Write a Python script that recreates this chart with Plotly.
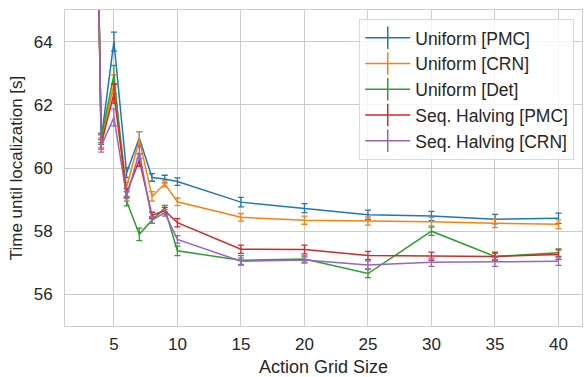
import plotly.graph_objects as go

# Action grid sizes evaluated
grid_size = [3, 4, 5, 6, 7, 8, 9, 10, 15, 20, 25, 30, 35, 40]

# Mean time until localization [s] per method
uniform_pmc = [85.0, 60.9, 64.0, 59.85, 60.95, 59.7, 59.65, 59.57, 58.92, 58.73, 58.52, 58.48, 58.38, 58.41]
uniform_crn = [85.0, 60.8, 62.65, 59.4, 60.9, 59.1, 59.5, 58.93, 58.44, 58.35, 58.32, 58.3, 58.25, 58.22]
uniform_det = [85.0, 60.95, 62.95, 58.95, 57.9, 58.35, 58.72, 57.38, 57.08, 57.12, 56.66, 58.0, 57.2, 57.32]
seqh_pmc = [85.0, 60.75, 62.35, 59.2, 60.25, 58.5, 58.65, 58.27, 57.43, 57.42, 57.23, 57.21, 57.2, 57.26]
seqh_crn = [85.0, 60.7, 61.6, 59.1, 60.5, 58.35, 58.58, 57.74, 57.05, 57.09, 56.93, 57.02, 57.03, 57.05]

# Standard errors
uniform_pmc_err = [1.0, 0.15, 0.3, 0.15, 0.2, 0.12, 0.12, 0.12, 0.15, 0.14, 0.15, 0.15, 0.15, 0.16]
uniform_crn_err = [1.0, 0.15, 0.3, 0.15, 0.25, 0.15, 0.1, 0.12, 0.12, 0.13, 0.13, 0.13, 0.14, 0.14]
uniform_det_err = [1.0, 0.15, 0.3, 0.15, 0.2, 0.1, 0.1, 0.15, 0.15, 0.1, 0.13, 0.13, 0.1, 0.12]
seqh_pmc_err = [1.0, 0.15, 0.3, 0.15, 0.2, 0.1, 0.1, 0.13, 0.13, 0.14, 0.13, 0.13, 0.14, 0.15]
seqh_crn_err = [1.0, 0.2, 0.27, 0.15, 0.2, 0.1, 0.1, 0.12, 0.1, 0.1, 0.12, 0.13, 0.14, 0.13]

series_names = ["Uniform [PMC]", "Uniform [CRN]", "Uniform [Det]",
                "Seq. Halving [PMC]", "Seq. Halving [CRN]"]
colors = ["#1f77b4", "#ff7f0e", "#2ca02c", "#d62728", "#9467bd"]

means = [uniform_pmc, uniform_crn, uniform_det, seqh_pmc, seqh_crn]
errs = [uniform_pmc_err, uniform_crn_err, uniform_det_err, seqh_pmc_err, seqh_crn_err]

FONT = "Liberation Sans, Arial, sans-serif"
TEXT = "#262626"
GRID = "#cccccc"

fig = go.Figure()

for name, color, y, e in zip(series_names, colors, means, errs):
    fig.add_trace(go.Scatter(
        x=grid_size, y=y, mode="lines", name=name, showlegend=False,
        line=dict(color=color, width=1.5),
        error_y=dict(type="data", array=e, color=color, thickness=1.3, width=3),
    ))

# Legend entries: line with a vertical error tick
for name, color in zip(series_names, colors):
    fig.add_trace(go.Scatter(
        x=[None], y=[None], mode="lines+markers", name=name,
        line=dict(color=color, width=1.5),
        marker=dict(symbol="line-ns-open", size=16, color=color,
                    line=dict(color=color, width=1.5)),
    ))

fig.update_layout(
    width=587, height=377,
    margin=dict(l=65, r=4, t=10, b=48),
    paper_bgcolor="white", plot_bgcolor="white",
    font=dict(family=FONT, size=17, color=TEXT),
    legend=dict(
        x=0.985, y=0.972, xanchor="right", yanchor="top",
        bgcolor="rgba(255,255,255,0.8)", bordercolor="#d9d9d9", borderwidth=1,
        font=dict(size=17.5, color=TEXT), itemwidth=45,
    ),
    xaxis=dict(
        range=[1.15, 41.85], tickvals=[5, 10, 15, 20, 25, 30, 35, 40],
        showgrid=True, gridcolor=GRID, gridwidth=1,
        showline=True, linecolor=GRID, linewidth=1, mirror=True,
        zeroline=False, ticks="", ticklabelstandoff=3,
        tickfont=dict(size=17),
        title=dict(text="Action Grid Size", font=dict(size=18, color=TEXT), standoff=6),
    ),
    yaxis=dict(
        range=[55, 65], tickvals=[56, 58, 60, 62, 64],
        showgrid=True, gridcolor=GRID, gridwidth=1,
        showline=True, linecolor=GRID, linewidth=1, mirror=True,
        zeroline=False, ticks="", ticklabelstandoff=8,
        tickfont=dict(size=17),
        title=dict(text="Time until localization [s]", font=dict(size=17, color=TEXT), standoff=6),
    ),
)

fig.write_html("out.html")
